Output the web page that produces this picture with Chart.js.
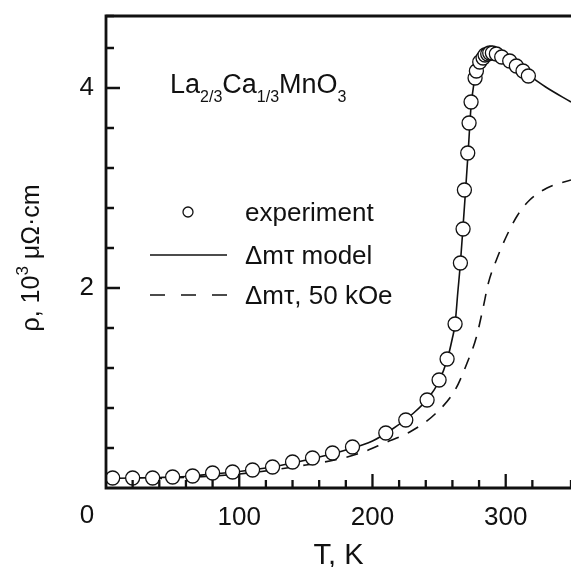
<!DOCTYPE html>
<html>
<head>
<meta charset="utf-8">
<script src="https://cdn.jsdelivr.net/npm/chart.js@4.4.0/dist/chart.umd.min.js"></script>
<style>
  html, body { margin: 0; padding: 0; background: #fff; }
  #wrap { width: 571px; height: 567px; }
</style>
</head>
<body>
<div id="wrap"><canvas id="rhoChart" width="571" height="567"></canvas></div>
<script>
/* data: T in K, rho in 10^3 uOhm*cm */
const tempExp = [5, 20, 35, 50, 65, 80, 95, 110, 125, 140, 155, 170, 185, 210, 225, 241,
  250, 256, 262, 266, 268, 269, 271.5, 272.5, 274, 277, 278, 280.5, 283, 284.5, 286.5, 288,
  290, 293, 297, 303, 308, 313, 317];
const rhoExp = [0.10, 0.10, 0.10, 0.11, 0.12, 0.15, 0.16, 0.18, 0.21, 0.26, 0.30, 0.35, 0.41, 0.55, 0.68, 0.88,
  1.08, 1.29, 1.64, 2.25, 2.59, 2.98, 3.35, 3.65, 3.86, 4.10, 4.17, 4.26, 4.30, 4.33, 4.34, 4.35,
  4.35, 4.34, 4.31, 4.27, 4.22, 4.17, 4.12];

const tempModel = [0, 20, 40, 60, 80, 100, 120, 140, 160, 180, 200, 215, 230, 242, 250, 256, 260, 262,
  264, 266, 268, 270, 272, 273, 274, 276, 278, 281, 284, 288, 292, 297, 305, 315, 330, 349];
const rhoModel = [0.095, 0.10, 0.105, 0.115, 0.14, 0.165, 0.20, 0.25, 0.31, 0.38, 0.47, 0.59, 0.74, 0.90, 1.07, 1.28, 1.50, 1.64,
  1.95, 2.25, 2.62, 3.00, 3.40, 3.62, 3.82, 4.03, 4.17, 4.27, 4.32, 4.35, 4.35, 4.31, 4.25, 4.15, 4.01, 3.86];

const tempField = [0, 50, 100, 150, 175, 193, 209, 228, 247, 262, 271, 278, 283, 287, 293, 301, 309, 318, 331, 349];
const rhoField = [0.09, 0.10, 0.14, 0.23, 0.29, 0.36, 0.45, 0.56, 0.74, 0.98, 1.25, 1.51, 1.80, 2.05, 2.28, 2.53, 2.73, 2.88, 3.00, 3.08];

const xMajor = [100, 200, 300];
const yMajor = [2, 4];

const FONT = '"Liberation Sans", Arial, Helvetica, sans-serif';
const INK = '#111';

function pts(xs, ys) {
  return xs.map(function(t, i) { return {x: t, y: ys[i]}; });
}

// draws the frame with inward ticks, the legend and the extra labels
const decor = {
  id: 'decor',
  afterDatasetsDraw(chart) {
    const ctx = chart.ctx;
    const a = chart.chartArea;
    const xs = chart.scales.x, ys = chart.scales.y;
    ctx.save();
    ctx.strokeStyle = INK;
    ctx.lineWidth = 2.8;
    ctx.beginPath();
    ctx.moveTo(a.right + 2, a.top);
    ctx.lineTo(a.left, a.top);
    ctx.lineTo(a.left, a.bottom);
    ctx.lineTo(a.right + 2, a.bottom);
    ctx.stroke();

    ctx.lineWidth = 2.3;
    ctx.beginPath();
    xs.ticks.forEach(function(t) {
      const px = xs.getPixelForValue(t.value);
      if (px <= a.left + 1) return;
      const len = xMajor.indexOf(Math.round(t.value)) >= 0 ? 14 : 8;
      ctx.moveTo(px, a.bottom);
      ctx.lineTo(px, a.bottom - len);
    });
    ys.ticks.forEach(function(t) {
      const py = ys.getPixelForValue(t.value);
      if (py >= a.bottom - 1) return;
      const major = yMajor.some(function(v) { return Math.abs(v - t.value) < 1e-6; });
      ctx.moveTo(a.left, py);
      ctx.lineTo(a.left + (major ? 14 : 8), py);
    });
    ctx.stroke();
    ctx.restore();
  },
  afterDraw(chart) {
    const ctx = chart.ctx;
    ctx.save();
    ctx.fillStyle = INK;
    ctx.textBaseline = 'alphabetic';

    // "0" of the x axis sits left of the origin
    ctx.font = '26px ' + FONT;
    ctx.textAlign = 'center';
    ctx.fillText('0', 87, 523);

    // compound name
    ctx.textAlign = 'left';
    let x = 170;
    const parts = [['La', 0], ['2/3', 1], ['Ca', 0], ['1/3', 1], ['MnO', 0], ['3', 1]];
    parts.forEach(function(p) {
      ctx.font = (p[1] ? '16px ' : '27px ') + FONT;
      ctx.fillText(p[0], x, p[1] ? 102 : 93);
      x += ctx.measureText(p[0]).width;
    });

    // legend
    ctx.strokeStyle = INK;
    ctx.lineWidth = 1.3;
    ctx.fillStyle = '#fff';
    ctx.beginPath();
    ctx.arc(188, 212, 5, 0, Math.PI * 2);
    ctx.fill();
    ctx.stroke();
    ctx.lineWidth = 1.5;
    ctx.beginPath();
    ctx.moveTo(150, 255);
    ctx.lineTo(227, 255);
    ctx.stroke();
    ctx.setLineDash([15, 16]);
    ctx.beginPath();
    ctx.moveTo(150, 295);
    ctx.lineTo(227, 295);
    ctx.stroke();
    ctx.setLineDash([]);
    ctx.fillStyle = INK;
    ctx.font = '26px ' + FONT;
    ctx.fillText('experiment', 245, 221);
    ctx.fillText('\u0394m\u03c4 model', 245, 264);
    ctx.fillText('\u0394m\u03c4, 50 kOe', 245, 304);

    // rotated y title with superscript
    ctx.translate(39, 258);
    ctx.rotate(-Math.PI / 2);
    const segs = [['\u03c1, 10', 0], ['3', 1], [' \u03bc\u03a9\u00b7cm', 0]];
    let w = 0;
    segs.forEach(function(s) {
      ctx.font = (s[1] ? '17px ' : '25px ') + FONT;
      w += ctx.measureText(s[0]).width;
    });
    let sx = -w / 2;
    segs.forEach(function(s) {
      ctx.font = (s[1] ? '17px ' : '25px ') + FONT;
      ctx.fillText(s[0], sx, s[1] ? -11 : 0);
      sx += ctx.measureText(s[0]).width;
    });
    ctx.restore();
  }
};

const data = {
  datasets: [
    {
      label: 'experiment',
      data: pts(tempExp, rhoExp),
      showLine: false,
      pointRadius: 7,
      pointBackgroundColor: '#fff',
      pointBorderColor: INK,
      pointBorderWidth: 1.3
    },
    {
      label: 'model',
      data: pts(tempModel, rhoModel),
      showLine: true,
      borderColor: INK,
      borderWidth: 1.6,
      pointRadius: 0,
      cubicInterpolationMode: 'monotone'
    },
    {
      label: '50 kOe',
      data: pts(tempField, rhoField),
      showLine: true,
      borderColor: INK,
      borderWidth: 1.6,
      borderDash: [12, 10],
      pointRadius: 0,
      cubicInterpolationMode: 'monotone'
    }
  ]
};

const config = {
  type: 'scatter',
  data,
  plugins: [decor],
  options: {
    responsive: false,
    animation: false,
    events: [],
    layout: { autoPadding: false, padding: { top: 16, right: 0, left: 0, bottom: 0 } },
    plugins: { legend: { display: false }, tooltip: { enabled: false } },
    scales: {
      x: {
        type: 'linear',
        min: 0,
        max: 349,
        grid: { display: false, drawTicks: false },
        border: { display: false },
        afterFit: function(s) {
          s.height = 79;
          s.paddingLeft = 0;
          s.paddingRight = 0;
        },
        ticks: {
          stepSize: 20,
          autoSkip: false,
          maxRotation: 0,
          padding: 14,
          color: INK,
          font: { family: FONT, size: 26 },
          callback: function(v) { return xMajor.indexOf(Math.round(v)) >= 0 ? String(Math.round(v)) : ''; }
        },
        title: {
          display: true,
          text: 'T, K',
          color: INK,
          font: { family: FONT, size: 29 },
          padding: { top: 0, bottom: -6 }
        }
      },
      y: {
        type: 'linear',
        min: 0,
        max: 4.72,
        grid: { display: false, drawTicks: false },
        border: { display: false },
        afterFit: function(s) {
          s.width = 106;
          s.paddingTop = 0;
          s.paddingBottom = 0;
        },
        ticks: {
          stepSize: 0.4,
          autoSkip: false,
          padding: 12,
          color: INK,
          font: { family: FONT, size: 26 },
          callback: function(v) {
            const hit = yMajor.find(function(m) { return Math.abs(m - v) < 1e-6; });
            return hit !== undefined ? String(hit) : '';
          }
        }
      }
    }
  }
};

const myChart = new Chart(document.getElementById('rhoChart'), config);
</script>
</body>
</html>
